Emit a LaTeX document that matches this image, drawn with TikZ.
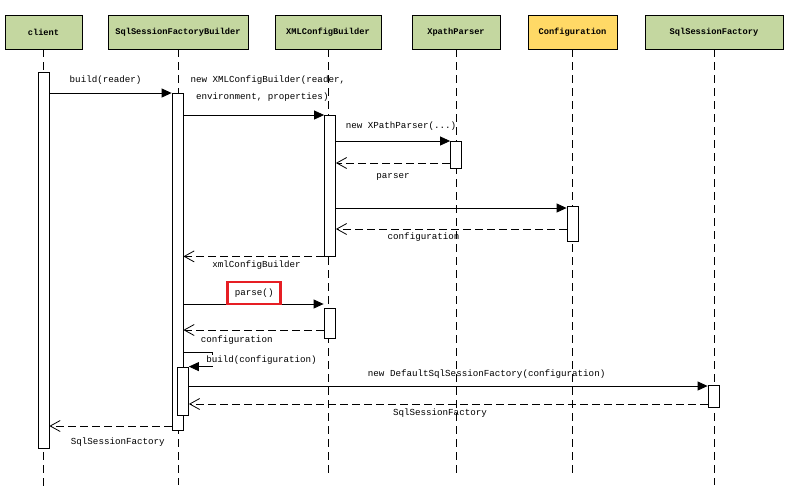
\documentclass[tikz,border=0pt]{standalone}
\usepackage{fontspec}
\setmonofont{Liberation Mono}
\usetikzlibrary{arrows.meta}
\definecolor{headgreen}{RGB}{196,215,160}
\definecolor{headyellow}{RGB}{255,217,102}
\definecolor{markred}{RGB}{230,30,36}

\begin{document}
\begin{tikzpicture}[x=1pt,y=-1pt,line width=0.8pt,
	head/.style={draw,fill=headgreen,minimum height=34pt,inner sep=0pt,font=\ttfamily\bfseries\fontsize{8.7}{10}\selectfont},
	life/.style={dash pattern=on 8pt off 5pt},
	act/.style={draw,fill=white,minimum width=11pt,inner sep=0pt},
	call/.style={-{Triangle[length=10pt,width=9pt]}},
	reply/.style={-{Straight Barb[length=10pt,width=11pt]},dash pattern=on 8pt off 4pt},
	lbl/.style={font=\ttfamily\fontsize{9.2}{17}\selectfont,inner sep=1pt}]
	\useasboundingbox (0,0) rectangle (789,499);
	% heads
	\node[head,minimum width=77pt] (client) at (43.5,32) {client};
	\node[head,minimum width=140pt] (ssfb) at (178,32) {SqlSessionFactoryBuilder};
	\node[head,minimum width=106pt] (xcb) at (328,32) {XMLConfigBuilder};
	\node[head,minimum width=88pt] (xpp) at (456,32) {XpathParser};
	\node[head,minimum width=89pt,fill=headyellow] (conf) at (572.5,32) {Configuration};
	\node[head,minimum width=138pt] (ssf) at (714,32) {SqlSessionFactory};
	\foreach \n/\y in {client/487,ssfb/485,xcb/477,xpp/477,conf/477,ssf/485}
		\draw[life] (\n.south) -- (\n.south |- 0,\y);
	% activations
	\node[act,minimum height=376pt] (aCl) at (43.5,260) {};
	\node[act,minimum height=337pt] (aB1) at (177.5,261.5) {};
	\node[act,minimum height=141pt] (aX1) at (330,185.5) {};
	\node[act,minimum height=27pt] (aP) at (456,154.5) {};
	\node[act,minimum height=35pt] (aC) at (572.5,223.5) {};
	\node[act,minimum height=30pt] (aX2) at (329.5,323) {};
	\node[act,minimum height=48pt] (aB2) at (183,391) {};
	\node[act,minimum height=22pt] (aF) at (713.5,396) {};
	% messages
	\draw[call] (aCl.east |- 0,93) -- node[lbl,pos=.46,yshift=13pt] {build(reader)} (aB1.west |- 0,93);
	\draw[call] (aB1.east |- 0,115) -- node[lbl,pos=.6,yshift=26.5pt,align=left] {new XMLConfigBuilder(reader,\\\hspace*{.6em}environment, properties)} (aX1.west |- 0,115);
	\draw[call] (aX1.east |- 0,141) -- node[lbl,pos=.57,yshift=15pt] {new XPathParser(...)} (aP.west |- 0,141);
	\draw[reply] (aP.west |- 0,163) -- node[lbl,pos=.5,yshift=-14pt] {parser} (aX1.east |- 0,163);
	\draw[call] (aX1.east |- 0,208) -- (aC.west |- 0,208);
	\draw[reply] (aC.west |- 0,229) -- node[lbl,pos=.62,yshift=-8pt] {configuration} (aX1.east |- 0,229);
	\draw[reply] (aX1.south west) -- node[lbl,pos=.48,yshift=-9pt] {xmlConfigBuilder} (aB1.east |- aX1.south);
	\draw[call] (aB1.east |- 0,304) -- node[lbl,pos=.505,yshift=11pt,draw=markred,line width=2.5pt,minimum width=53pt,minimum height=22pt] {parse()} (aX2.west |- 0,304);
	\draw[reply] (aX2.west |- 0,330) -- node[lbl,pos=.62,yshift=-10pt] {configuration} (aB1.east |- 0,330);
	\draw[call] (aB1.east |- 0,352) -| ([xshift=23pt]aB2.north east) -- (aB2.north east);
	\node[lbl,fill=white,anchor=west] (selfbuild) at ([xshift=16pt,yshift=6pt]aB2.north east) {build(configuration)};
	\draw[call] (aB2.east |- 0,386) -- node[lbl,pos=.574,yshift=12pt] {new DefaultSqlSessionFactory(configuration)} (aF.west |- 0,386);
	\draw[reply] (aF.west |- 0,404) -- node[lbl,pos=.516,yshift=-9pt] {SqlSessionFactory} (aB2.east |- 0,404);
	\draw[reply] (aB1.west |- 0,426) -- node[lbl,pos=.44,yshift=-16pt] {SqlSessionFactory} (aCl.east |- 0,426);
\end{tikzpicture}
\end{document}
